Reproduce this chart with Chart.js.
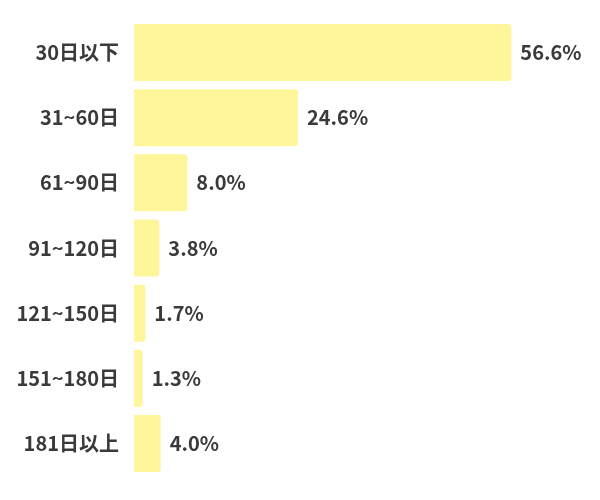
<!DOCTYPE html>
<html>
<head>
<meta charset="utf-8">
<script src="https://cdn.jsdelivr.net/npm/chart.js@4"></script>
<style>
html, body { margin:0; padding:0; background:#fff; }
#wrap { width:600px; height:500px; }
</style>
</head>
<body>
<div id="wrap"><canvas id="chart"></canvas></div>
<script>
const categories = ["30日以下","31~60日","61~90日","91~120日","121~150日","151~180日","181日以上"];
const values = [56.6, 24.6, 8.0, 3.8, 1.7, 1.3, 4.0];

const fontFamily = "'Noto Sans CJK JP', 'Noto Sans', sans-serif";
const textColor = "#3a3a3a";

const valueLabels = {
    id:"valueLabels",
    afterDatasetsDraw(chart){
        const ctx = chart.ctx;
        const meta = chart.getDatasetMeta(0);
        ctx.save();
        ctx.font = "bold 20px " + fontFamily;
        ctx.fillStyle = textColor;
        ctx.textAlign = "left";
        ctx.textBaseline = "middle";
        meta.data.forEach((bar, i)=>{
            ctx.fillText(values[i].toFixed(1) + "%", bar.x + 9, bar.y);
        });
        ctx.restore();
    }
};

new Chart(document.getElementById("chart"),{
    type:"bar",
    data:{
        labels:categories,
        datasets:[{
            data:values,
            backgroundColor:"#fff59a",
            borderRadius:3,
            borderSkipped:"start",
            barPercentage:0.875,
            categoryPercentage:1
        }]
    },
    options:{
        indexAxis:"y",
        responsive:true,
        maintainAspectRatio:false,
        animation:false,
        layout:{padding:{top:20, bottom:24, right:66, left:0}},
        plugins:{legend:{display:false}, tooltip:{enabled:false}},
        scales:{
            x:{display:false, min:0, max:60},
            y:{
                grid:{display:false, drawTicks:false},
                border:{display:false},
                afterFit(scale){
                    scale.width = 134;
                    scale.paddingTop = 0;
                    scale.paddingBottom = 0;
                },
                ticks:{
                    padding:15,
                    color:textColor,
                    font:{family:fontFamily, size:20, weight:"bold"}
                }
            }
        }
    },
    plugins:[valueLabels]
});
</script>
</body>
</html>
